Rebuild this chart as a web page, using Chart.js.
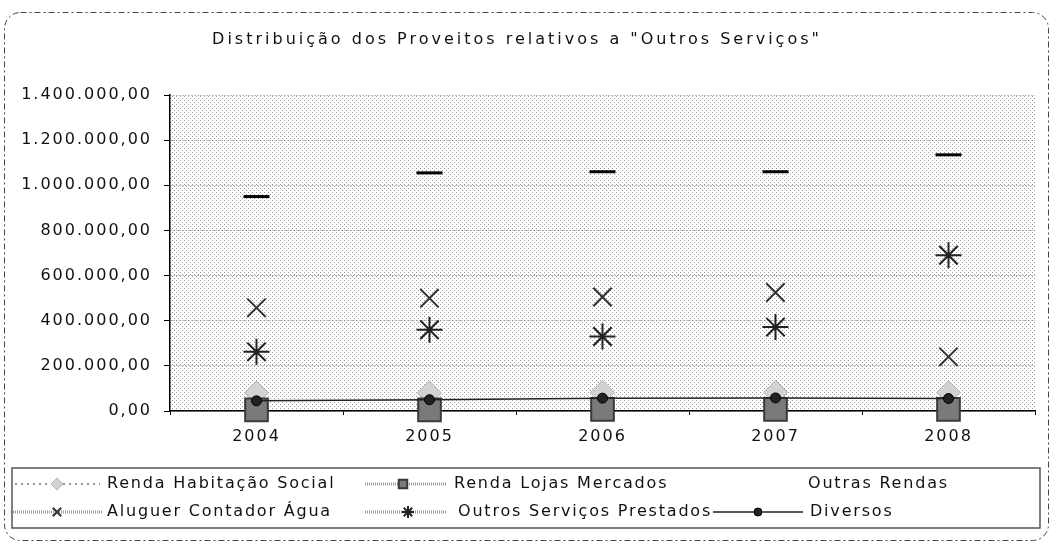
<!DOCTYPE html>
<html>
<head>
<meta charset="utf-8">
<script src="https://cdn.jsdelivr.net/npm/chart.js@4.4.1/dist/chart.umd.min.js"></script>
<style>
  html, body { margin: 0; padding: 0; background: #fff; }
  #wrap { width: 1053px; height: 542px; position: relative; }
</style>
</head>
<body>
<div id="wrap"><canvas id="proveitosChart" width="1053" height="542"></canvas></div>
<script>
// Data
const years = ['2004', '2005', '2006', '2007', '2008'];
const rendaHabitacaoSocial = [80000, 80000, 82000, 82000, 82000];
const rendaLojasMercados = [5000, 5000, 7000, 7000, 7000];
const outrasRendas = [950000, 1055000, 1060000, 1060000, 1135000];
const aluguerContadorAgua = [457000, 500000, 505000, 525000, 240000];
const outrosServicosPrestados = [262000, 360000, 330000, 372000, 690000];
const diversos = [45000, 50000, 57000, 58000, 55000];
const yTicks = [0, 200000, 400000, 600000, 800000, 1000000, 1200000, 1400000];

const titleText = 'Distribuição dos Proveitos relativos a "Outros Serviços"';
const FONT = '"DejaVu Sans", sans-serif';

// 1.400.000,00 style labels
function fmt(v) {
    const s = Math.round(v).toString().replace(/\B(?=(\d{3})+(?!\d))/g, '.');
    return s + ',00';
}

// sparse stipple like the scanned plot area
function makePattern(ctx) {
    const c = document.createElement('canvas');
    c.width = 4; c.height = 4;
    const p = c.getContext('2d');
    p.fillStyle = '#ffffff';
    p.fillRect(0, 0, 4, 4);
    p.fillStyle = '#999999';
    p.fillRect(0, 0, 1, 1);
    p.fillRect(2, 2, 1, 1);
    return ctx.createPattern(c, 'repeat');
}

// legend placement (row / column positions in the legend box)
const legendLayout = [
    { x1: 15, x2: 100, mx: 57, tx: 107, y: 484, line: '#9a9a9a', dash: [2, 4], lw: 2 },
    { x1: 365, x2: 447, mx: 403, tx: 454, y: 484, line: '#9a9a9a', dash: [1, 1], lw: 3 },
    { x1: 0, x2: 0, mx: 0, tx: 808, y: 484, line: null },
    { x1: 13, x2: 103, mx: 57, tx: 107, y: 512, line: '#9a9a9a', dash: [1, 1], lw: 3 },
    { x1: 365, x2: 447, mx: 408, tx: 458, y: 512, line: '#9a9a9a', dash: [1, 1], lw: 3 },
    { x1: 713, x2: 803, mx: 758, tx: 810, y: 512, line: '#222', dash: [], lw: 1.5 }
];

const decorPlugin = {
    id: 'decor',
    beforeDraw(chart) {
        const ctx = chart.ctx;
        const a = chart.chartArea;
        ctx.save();
        // outer dashed rounded frame
        ctx.strokeStyle = '#444';
        ctx.lineWidth = 1;
        ctx.setLineDash([6, 3, 2, 3]);
        ctx.beginPath();
        ctx.roundRect(4.5, 12.5, 1044, 528, 16);
        ctx.stroke();
        ctx.setLineDash([]);
        // plot background
        ctx.fillStyle = makePattern(ctx);
        ctx.fillRect(a.left, a.top, a.right - a.left, a.bottom - a.top);
        // title
        ctx.letterSpacing = '3px';
        ctx.fillStyle = '#111';
        ctx.font = '16px ' + FONT;
        ctx.textAlign = 'center';
        ctx.textBaseline = 'middle';
        ctx.fillText(titleText, 517, 40);
        ctx.restore();
        // spacing for axis labels drawn by Chart.js
        ctx.letterSpacing = '2px';
    },
    afterDraw(chart) {
        const ctx = chart.ctx;
        ctx.save();
        // legend box
        ctx.strokeStyle = '#555';
        ctx.lineWidth = 1.5;
        ctx.strokeRect(12, 468, 1028, 60);
        chart.data.datasets.forEach((ds, i) => {
            const L = legendLayout[i];
            if (L.line) {
                ctx.strokeStyle = L.line;
                ctx.lineWidth = L.lw;
                ctx.setLineDash(L.dash);
                ctx.beginPath();
                ctx.moveTo(L.x1, L.y);
                ctx.lineTo(L.x2, L.y);
                ctx.stroke();
                ctx.setLineDash([]);
                if (ds.legendRadius > 0) {
                    ctx.fillStyle = ds.pointBackgroundColor;
                    ctx.strokeStyle = ds.pointBorderColor;
                    ctx.lineWidth = Math.min(ds.pointBorderWidth, 2);
                    Chart.helpers.drawPoint(ctx, {
                        pointStyle: ds.pointStyle,
                        radius: ds.legendRadius,
                        rotation: 0,
                        borderWidth: Math.min(ds.pointBorderWidth, 2)
                    }, L.mx, L.y);
                }
            }
            ctx.letterSpacing = '1.8px';
            ctx.fillStyle = '#111';
            ctx.font = '16px ' + FONT;
            ctx.textAlign = 'left';
            ctx.textBaseline = 'middle';
            ctx.fillText(ds.label, L.tx, L.y);
        });
        ctx.restore();
    }
};

const ctx = document.getElementById('proveitosChart').getContext('2d');
const proveitosChart = new Chart(ctx, {
    type: 'line',
    data: {
        labels: years,
        datasets: [
            {
                label: 'Renda Habitação Social',
                data: rendaHabitacaoSocial,
                showLine: false,
                clip: false,
                pointStyle: 'rectRot',
                pointRadius: 12,
                legendRadius: 6,
                pointBackgroundColor: '#d2d2d2',
                pointBorderColor: '#b4b4b4',
                pointBorderWidth: 1,
                borderColor: '#b4b4b4',
                order: 6
            },
            {
                label: 'Renda Lojas Mercados',
                data: rendaLojasMercados,
                showLine: false,
                clip: false,
                pointStyle: 'rect',
                pointRadius: 16,
                legendRadius: 6,
                pointBackgroundColor: '#7a7a7a',
                pointBorderColor: '#3a3a3a',
                pointBorderWidth: 2,
                borderColor: '#3a3a3a',
                order: 5
            },
            {
                label: 'Outras Rendas',
                data: outrasRendas,
                showLine: false,
                clip: false,
                pointStyle: 'line',
                pointRadius: 13,
                legendRadius: 0,
                pointBackgroundColor: '#000',
                pointBorderColor: '#000',
                pointBorderWidth: 3,
                borderColor: '#000',
                order: 1
            },
            {
                label: 'Aluguer Contador Água',
                data: aluguerContadorAgua,
                showLine: false,
                clip: false,
                pointStyle: 'crossRot',
                pointRadius: 13,
                legendRadius: 6,
                pointBackgroundColor: '#333',
                pointBorderColor: '#333',
                pointBorderWidth: 2,
                borderColor: '#333',
                order: 2
            },
            {
                label: 'Outros Serviços Prestados',
                data: outrosServicosPrestados,
                showLine: false,
                clip: false,
                pointStyle: 'star',
                pointRadius: 13,
                legendRadius: 6,
                pointBackgroundColor: '#222',
                pointBorderColor: '#222',
                pointBorderWidth: 2,
                borderColor: '#222',
                order: 3
            },
            {
                label: 'Diversos',
                data: diversos,
                showLine: true,
                clip: false,
                borderColor: '#222',
                borderWidth: 1.5,
                pointStyle: 'circle',
                pointRadius: 5,
                legendRadius: 4,
                pointBackgroundColor: '#222',
                pointBorderColor: '#000',
                pointBorderWidth: 1,
                order: 4
            }
        ]
    },
    options: {
        responsive: false,
        animation: false,
        layout: { padding: { left: 10, right: 13, top: 95, bottom: 96 } },
        plugins: {
            legend: { display: false },
            title: { display: false },
            tooltip: { enabled: false }
        },
        scales: {
            x: {
                offset: true,
                afterFit(scale) { scale.height = 35; },
                grid: {
                    display: true,
                    drawOnChartArea: false,
                    offset: true,
                    tickLength: 4,
                    color: '#000'
                },
                border: { display: true, color: '#000', width: 1.5 },
                ticks: {
                    color: '#111',
                    padding: 12,
                    font: { family: FONT, size: 16 }
                }
            },
            y: {
                min: 0,
                max: 1400000,
                afterFit(scale) { scale.width = 160; },
                afterBuildTicks(scale) { scale.ticks = yTicks.map(v => ({ value: v })); },
                grid: {
                    color: '#7a7a7a',
                    tickColor: '#000',
                    tickLength: 6,
                    tickBorderDash: []
                },
                border: { display: true, color: '#000', width: 1.5, dash: [1, 2] },
                ticks: {
                    color: '#111',
                    padding: 12,
                    font: { family: FONT, size: 16 },
                    callback: function(value) { return fmt(value); }
                }
            }
        }
    },
    plugins: [decorPlugin]
});
</script>
</body>
</html>
